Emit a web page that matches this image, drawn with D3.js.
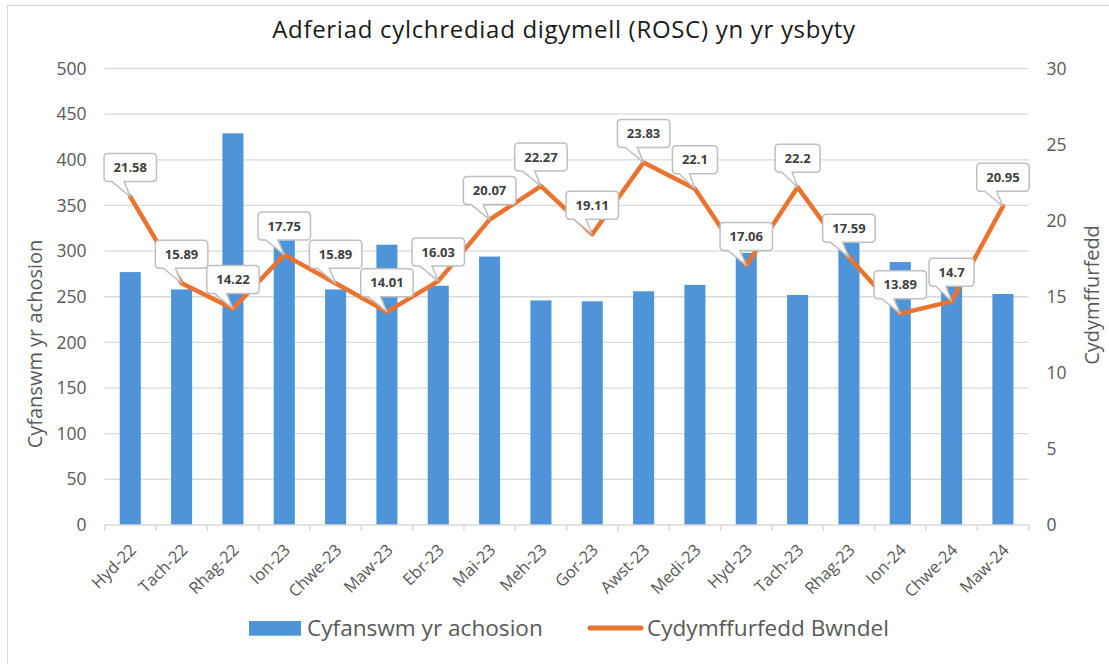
<!DOCTYPE html>
<html>
<head>
<meta charset="utf-8">
<script src="https://cdn.jsdelivr.net/npm/d3@7"></script>
<style>
  html, body { margin: 0; padding: 0; background: #fff; }
  svg { display: block; font-family: "Open Sans", "Noto Sans", sans-serif; }
</style>
</head>
<body>
<svg id="chart" width="1109" height="664"></svg>
<script>
const categories = ["Hyd-22","Tach-22","Rhag-22","Ion-23","Chwe-23","Maw-23","Ebr-23","Mai-23","Meh-23","Gor-23","Awst-23","Medi-23","Hyd-23","Tach-23","Rhag-23","Ion-24","Chwe-24","Maw-24"];
const totalCases = [277,258,429,312,258,307,262,294,246,245,256,263,298,252,310,288,279,253];
const compliance = [21.58,15.89,14.22,17.75,15.89,14.01,16.03,20.07,22.27,19.11,23.83,22.1,17.06,22.2,17.59,13.89,14.7,20.95];
const leftTicks = [0,50,100,150,200,250,300,350,400,450,500];
const rightTicks = [0,5,10,15,20,25,30];
const titleText = "Adferiad cylchrediad digymell (ROSC) yn yr ysbyty";
const leftTitle = "Cyfanswm yr achosion";
const rightTitle = "Cydymffurfedd";
const barName = "Cyfanswm yr achosion";
const lineName = "Cydymffurfedd Bwndel";

const svg = d3.select("#chart");
const W = 1109, H = 664;
const plot = {left: 104.6, right: 1028.6, top: 68.5, bottom: 525};
const BLUE = "#4E94D8", ORANGE = "#EB7330", GRID = "#D9D9D9", LABEL = "#595959";

svg.append("rect").attr("width", W).attr("height", H).attr("fill", "#fff");
svg.append("rect").attr("x", 7.5).attr("y", 5.5).attr("width", 1120).attr("height", 680)
  .attr("fill", "none").attr("stroke", "#D9D9D9").attr("stroke-width", 1.2);

const x = d3.scaleBand().domain(categories).range([plot.left, plot.right])
  .paddingInner(0.59).paddingOuter(0.295);
const yL = d3.scaleLinear().domain([0, 500]).range([plot.bottom, plot.top]);
const yR = d3.scaleLinear().domain([0, 30]).range([plot.bottom, plot.top]);

// gridlines
svg.append("g").selectAll("line").data(leftTicks.slice(1)).join("line")
  .attr("x1", plot.left).attr("x2", plot.right)
  .attr("y1", d => yL(d)).attr("y2", d => yL(d))
  .attr("stroke", GRID).attr("stroke-width", 1.3);

// left axis
const gL = svg.append("g").attr("transform", `translate(${plot.left - 18},0)`)
  .call(d3.axisLeft(yL).tickValues(leftTicks).tickSize(0).tickPadding(0));
gL.select(".domain").remove();
gL.selectAll("text").attr("fill", LABEL).attr("font-size", 17.5)
  .attr("font-family", "'Open Sans', sans-serif");

// right axis
const gR = svg.append("g").attr("transform", `translate(${plot.right + 18},0)`)
  .call(d3.axisRight(yR).tickValues(rightTicks).tickSize(0).tickPadding(0));
gR.select(".domain").remove();
gR.selectAll("text").attr("fill", LABEL).attr("font-size", 17.5)
  .attr("font-family", "'Open Sans', sans-serif");

// bars
svg.append("g").selectAll("rect").data(categories).join("rect")
  .attr("x", d => x(d)).attr("width", x.bandwidth())
  .attr("y", (d, i) => yL(totalCases[i]))
  .attr("height", (d, i) => yL(0) - yL(totalCases[i]))
  .attr("fill", BLUE);

// bottom axis
const gX = svg.append("g").attr("transform", `translate(0,${plot.bottom})`);
gX.append("line").attr("x1", plot.left).attr("x2", plot.right)
  .attr("stroke", GRID).attr("stroke-width", 1.5);
const boundaries = categories.map(c => x(c) - (x.step() - x.bandwidth()) / 2)
  .concat([plot.right]);
gX.selectAll("line.tick").data(boundaries).join("line").attr("class", "tick")
  .attr("x1", d => d).attr("x2", d => d).attr("y1", 0).attr("y2", 6)
  .attr("stroke", GRID).attr("stroke-width", 1.5);
gX.selectAll("text").data(categories).join("text")
  .attr("transform", d => `translate(${x(d) + x.bandwidth() / 2 + 7},${26}) rotate(-45)`)
  .attr("text-anchor", "end").attr("fill", LABEL).attr("font-size", 16.5)
  .text(d => d);

// line
const cx = (d) => x(d) + x.bandwidth() / 2;
const line = d3.line().x((d, i) => cx(categories[i])).y(d => yR(d));
svg.append("path").datum(compliance).attr("d", line)
  .attr("fill", "none").attr("stroke", ORANGE).attr("stroke-width", 4.5)
  .attr("stroke-linejoin", "round").attr("stroke-linecap", "round");

// callout labels
const lblG = svg.append("g");
compliance.forEach((v, i) => {
  const px = cx(categories[i]), py = yR(v);
  const g = lblG.append("g");
  const path = g.append("path");
  const t = g.append("text").attr("x", px).attr("text-anchor", "middle")
    .attr("font-size", 13).attr("font-weight", "bold").attr("fill", "#404040")
    .text(String(v));
  const tw = t.node().getComputedTextLength();
  const w = tw + 19, h = 28, r = 4;
  const x0 = px - w / 2, x1 = px + w / 2, y1 = py - 15, y0 = y1 - h;
  t.attr("y", (y0 + y1) / 2).attr("dy", "0.36em");
  const b1 = x0 + w * 0.15, b2 = x0 + w * 0.38;
  const d = `M${x0 + r},${y0} H${x1 - r} Q${x1},${y0} ${x1},${y0 + r} V${y1 - r} Q${x1},${y1} ${x1 - r},${y1} H${b2} L${px},${py} L${b1},${y1} H${x0 + r} Q${x0},${y1} ${x0},${y1 - r} V${y0 + r} Q${x0},${y0} ${x0 + r},${y0} Z`;
  path.attr("d", d).attr("fill", "#fff").attr("stroke", "#BFBFBF").attr("stroke-width", 1.5);
});

// title
svg.append("text").attr("x", 564).attr("y", 37.5).attr("text-anchor", "middle")
  .attr("font-size", 24).attr("letter-spacing", 0.7).attr("fill", "#1a1a1a").text(titleText);

// axis titles
svg.append("text").attr("transform", "translate(42,344) rotate(-90)")
  .attr("text-anchor", "middle").attr("font-size", 20).attr("fill", LABEL).text(leftTitle);
svg.append("text").attr("transform", "translate(1099,295) rotate(-90)")
  .attr("text-anchor", "middle").attr("font-size", 20).attr("fill", LABEL).text(rightTitle);

// legend
const lg = svg.append("g");
lg.append("rect").attr("x", 249).attr("y", 621).attr("width", 52).attr("height", 14.7).attr("fill", BLUE);
lg.append("text").attr("x", 307).attr("y", 636).attr("font-size", 22.6).attr("fill", LABEL).text(barName);
lg.append("line").attr("x1", 590).attr("x2", 641).attr("y1", 628).attr("y2", 628)
  .attr("stroke", ORANGE).attr("stroke-width", 5).attr("stroke-linecap", "round");
lg.append("text").attr("x", 647).attr("y", 636).attr("font-size", 22.6).attr("fill", LABEL).text(lineName);
</script>
</body>
</html>
